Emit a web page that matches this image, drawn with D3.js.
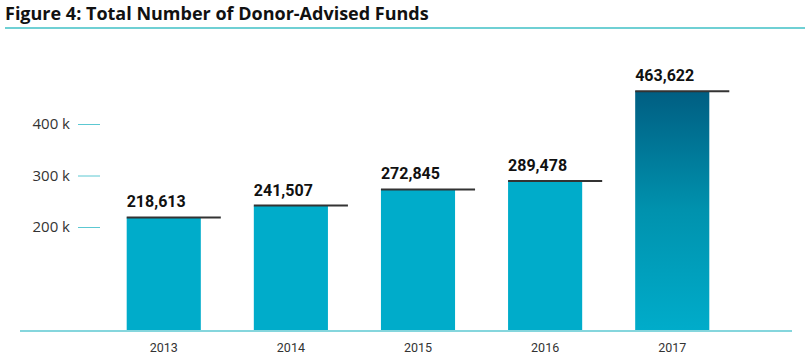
<!DOCTYPE html>
<html lang="en">
<head>
  <meta charset="UTF-8">
  <title>Total Number of Donor-Advised Funds</title>
  <script src="https://d3js.org/d3.v7.min.js"></script>
  <style>
    body { margin: 0; background: #fff; }
    svg { display: block; font-family: 'Roboto', sans-serif; }
  </style>
</head>
<body>
  <div id="chart"></div>
  <script>
    // Data
    const years = ["2013", "2014", "2015", "2016", "2017"];
    const funds = [218613, 241507, 272845, 289478, 463622];
    const yTicks = [200000, 300000, 400000];
    const yTickLabels = ["200 k", "300 k", "400 k"];
    const title = "Figure 4: Total Number of Donor-Advised Funds";

    const width = 808, height = 360;

    const svg = d3.select("#chart").append("svg")
      .attr("width", width)
      .attr("height", height);

    // gradient for the last (highlighted) bar
    const defs = svg.append("defs");
    const grad = defs.append("linearGradient")
      .attr("id", "lastBar")
      .attr("x1", 0).attr("y1", 0).attr("x2", 0).attr("y2", 1);
    grad.append("stop").attr("offset", "0%").attr("stop-color", "#005e82");
    grad.append("stop").attr("offset", "50%").attr("stop-color", "#0092ae");
    grad.append("stop").attr("offset", "100%").attr("stop-color", "#00acca");

    // title + rule
    svg.append("text")
      .attr("x", 5)
      .attr("y", 20)
      .style("font-family", "'Open Sans', sans-serif")
      .style("font-size", "18px")
      .style("font-weight", "bold")
      .attr("fill", "#111")
      .text(title);

    svg.append("line")
      .attr("x1", 5).attr("x2", 805)
      .attr("y1", 28).attr("y2", 28)
      .attr("stroke", "#6fd0d4")
      .attr("stroke-width", 2);

    // scales
    const x = d3.scaleBand()
      .domain(years)
      .range([100, 736])
      .paddingInner(0.417)
      .paddingOuter(0.21);

    const y = d3.scaleLinear()
      .domain([0, 500000])
      .range([330, 72.5]);

    // y axis: short teal ticks with labels
    const yAxis = svg.append("g")
      .attr("transform", "translate(100,0)")
      .call(d3.axisLeft(y)
        .tickValues(yTicks)
        .tickSize(22)
        .tickPadding(8)
        .tickFormat((d, i) => yTickLabels[i]));
    yAxis.select(".domain").remove();
    yAxis.selectAll(".tick line").attr("stroke", "#5cc8d2").attr("stroke-width", 1);
    yAxis.selectAll(".tick text")
      .attr("fill", "#333")
      .style("font-family", "'Open Sans', sans-serif")
      .style("font-size", "15px");

    // bars
    const data = years.map((yr, i) => ({ year: yr, value: funds[i] }));

    svg.selectAll(".bar")
      .data(data)
      .join("rect")
      .attr("class", "bar")
      .attr("x", d => x(d.year))
      .attr("width", x.bandwidth())
      .attr("y", d => y(d.value))
      .attr("height", d => y(0) - y(d.value))
      .attr("fill", (d, i) => i === data.length - 1 ? "url(#lastBar)" : "#00acca");

    // dark cap line on top of each bar
    svg.selectAll(".cap")
      .data(data)
      .join("line")
      .attr("class", "cap")
      .attr("x1", d => x(d.year))
      .attr("x2", d => x(d.year) + x.bandwidth() + 20)
      .attr("y1", d => y(d.value))
      .attr("y2", d => y(d.value))
      .attr("stroke", "#333")
      .attr("stroke-width", 2);

    // value labels
    svg.selectAll(".val")
      .data(data)
      .join("text")
      .attr("class", "val")
      .attr("x", d => x(d.year))
      .attr("y", d => y(d.value) - 10)
      .style("font-size", "16px")
      .style("font-weight", "bold")
      .attr("fill", "#111")
      .text(d => d3.format(",")(d.value));

    // x axis baseline + year labels
    svg.append("line")
      .attr("x1", 20).attr("x2", 792)
      .attr("y1", 331).attr("y2", 331)
      .attr("stroke", "#5cc8d2")
      .attr("stroke-width", 1.5);

    const xAxis = svg.append("g")
      .attr("transform", "translate(0,331)")
      .call(d3.axisBottom(x).tickSize(0).tickPadding(12));
    xAxis.select(".domain").remove();
    xAxis.selectAll(".tick text")
      .attr("fill", "#333")
      .style("font-family", "Roboto, sans-serif")
      .style("font-size", "12.5px");
  </script>
</body>
</html>
